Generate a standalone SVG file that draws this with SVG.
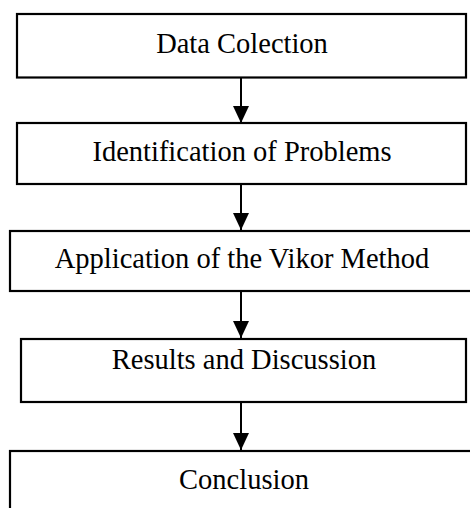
<svg xmlns="http://www.w3.org/2000/svg" width="470" height="508" viewBox="0 0 470 508">
<style>
.box{fill:#fff;stroke:#000;stroke-width:2.2}
.lbl{font-family:"Liberation Serif","DejaVu Serif",serif;font-size:28.5px;fill:#000;text-anchor:middle}
.conn{stroke:#000;stroke-width:2;fill:none;marker-end:url(#ah)}
</style>
<defs>
<marker id="ah" markerUnits="userSpaceOnUse" markerWidth="17" markerHeight="16" refX="17" refY="8" orient="auto" viewBox="0 0 17 16">
<path d="M0,0 L17,8 L0,16 Z" fill="#000"/>
</marker>
</defs>
<rect width="470" height="508" fill="#fff"/>
<g id="n1">
<rect class="box" x="17" y="14" width="449" height="63.5"/>
<text class="lbl" x="242" y="52.5">Data Colection</text>
</g>
<g id="n2">
<rect class="box" x="17" y="123" width="449" height="61"/>
<text class="lbl" x="242" y="160.5">Identification of Problems</text>
</g>
<g id="n3">
<rect class="box" x="10" y="231" width="470" height="60"/>
<text class="lbl" x="242" y="267.5">Application of the Vikor Method</text>
</g>
<g id="n4">
<rect class="box" x="21" y="339" width="445" height="63"/>
<text class="lbl" x="244" y="369">Results and Discussion</text>
</g>
<g id="n5">
<rect class="box" x="10" y="451" width="470" height="70"/>
<text class="lbl" x="244" y="488.5">Conclusion</text>
</g>
<g id="connectors">
<line class="conn" x1="241" y1="78" x2="241" y2="123"/>
<line class="conn" x1="241" y1="185" x2="241" y2="230"/>
<line class="conn" x1="241" y1="292" x2="241" y2="338"/>
<line class="conn" x1="241" y1="403" x2="241" y2="450"/>
</g>
</svg>
